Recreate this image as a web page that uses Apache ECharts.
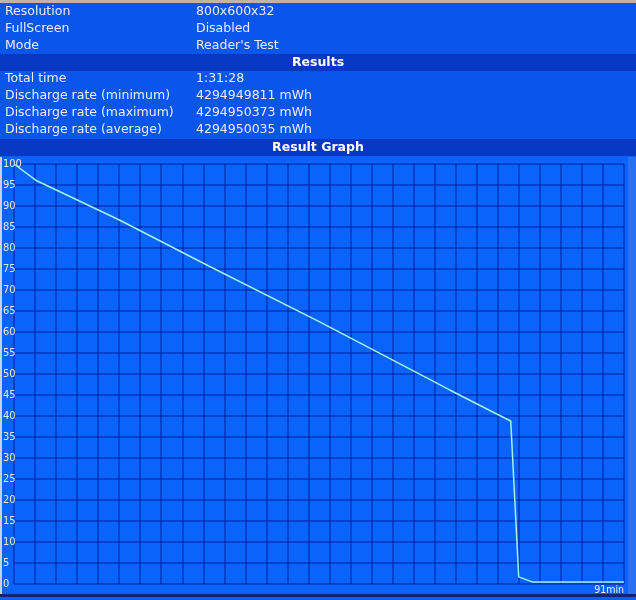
<!DOCTYPE html>
<html>
<head>
<meta charset="utf-8">
<script src="https://cdn.jsdelivr.net/npm/echarts@6/dist/echarts.min.js"></script>
<style>
html,body{margin:0;padding:0;background:#0a55ea;}
#c{width:636px;height:600px;}
</style>
</head>
<body>
<div id="c"></div>
<script>
// ---- data ----
const infoLabels = ['Resolution', 'FullScreen', 'Mode'];
const infoValues = ['800x600x32', 'Disabled', "Reader's Test"];
const resultLabels = ['Total time', 'Discharge rate (minimum)', 'Discharge rate (maximum)', 'Discharge rate (average)'];
const resultValues = ['1:31:28', '4294949811 mWh', '4294950373 mWh', '4294950035 mWh'];
const sectionTitles = ['Results', 'Result Graph'];
const timeMin   = [0,   3.4,  15.8, 29.2, 45.6, 65.0, 71.5, 74.1, 75.3, 77.3, 91];
const chargePct = [100, 96.0, 86.6, 75.6, 62.4, 46.2, 40.9, 38.8, 1.7,  0.5,  0.5];
const xMax = 91;
const xUnitLabel = '91min';
const xColumns = 29;
const yMin = 0, yMax = 100, yStep = 5;

// ---- layout ----
const FONT = '"DejaVu Sans", sans-serif';
const FONT_C = '"DejaVu Sans Condensed", "DejaVu Sans", sans-serif';
const TXT = '#e8eeff';
const chart = echarts.init(document.getElementById('c'), null, {renderer: 'canvas'});

const g = [];
g.push({type:'rect', z:-100, shape:{x:0,y:0,width:636,height:600}, style:{fill:'#0a55ea'}});
g.push({type:'rect', z:-99, shape:{x:0,y:0,width:636,height:3}, style:{fill:'#bdb6a6'}});
const rowY0 = 12, rowH = 16.8;
infoLabels.forEach((t, i) => {
  g.push({type:'text', z:5, style:{text:t, x:5, y:rowY0 + i*rowH, fill:TXT, font:'12.5px ' + FONT, verticalAlign:'middle'}});
  g.push({type:'text', z:5, style:{text:infoValues[i], x:196, y:rowY0 + i*rowH, fill:TXT, font:'12.5px ' + FONT, verticalAlign:'middle'}});
});
// section bars
const barYs = [54, 139];
sectionTitles.forEach((t, i) => {
  g.push({type:'rect', z:-98, shape:{x:0,y:barYs[i],width:636,height:17}, style:{fill:'#0638c4'}});
  g.push({type:'text', z:5, style:{text:t, x:318, y:barYs[i] + 8.5, fill:'#ffffff', font:'bold 12.5px ' + FONT, align:'center', verticalAlign:'middle'}});
});
const resY0 = 79;
resultLabels.forEach((t, i) => {
  g.push({type:'text', z:5, style:{text:t, x:5, y:resY0 + i*rowH, fill:TXT, font:'12.5px ' + FONT, verticalAlign:'middle'}});
  g.push({type:'text', z:5, style:{text:resultValues[i], x:196, y:resY0 + i*rowH, fill:TXT, font:'12.5px ' + FONT, verticalAlign:'middle'}});
});
// graph panel
g.push({type:'rect', z:-98, shape:{x:0,y:156,width:636,height:444}, style:{fill:'#0c5ff2'}});
g.push({type:'rect', z:-97, shape:{x:3,y:157,width:625,height:436}, style:{fill:'#0a63fb'}});
g.push({type:'rect', z:-97, shape:{x:0,y:157,width:2,height:438}, style:{fill:'#c9cfe0'}});
g.push({type:'rect', z:-97, shape:{x:0,y:594,width:636,height:3}, style:{fill:'#06267a'}});
g.push({type:'rect', z:-97, shape:{x:628,y:157,width:8,height:437}, style:{fill:'#2a70f0'}});

chart.setOption({
  animation: false,
  backgroundColor: 'transparent',
  graphic: {elements: g},
  grid: {left: 14, right: 12, top: 164, bottom: 16, containLabel: false},
  xAxis: {
    type: 'value', min: 0, max: xMax, interval: xMax / xColumns,
    name: xUnitLabel, nameLocation: 'end', nameGap: 0,
    nameTextStyle: {color: TXT, fontSize: 10.5, fontFamily: FONT_C, align: 'right', verticalAlign: 'top', padding: [1, 0, 0, 0]},
    axisLine: {show: false}, axisTick: {show: false}, axisLabel: {show: false},
    splitLine: {show: true, lineStyle: {color: 'rgba(0,35,160,0.7)', width: 1.5}}
  },
  yAxis: {
    type: 'value', min: yMin, max: yMax, interval: yStep,
    axisLine: {show: false}, axisTick: {show: false},
    axisLabel: {show: true, color: '#e6ecd8', fontSize: 11, fontFamily: FONT_C, align: 'left', margin: 11},
    splitLine: {show: true, lineStyle: {color: 'rgba(0,35,160,0.7)', width: 1.5}}
  },
  series: [{
    type: 'line',
    data: timeMin.map((t, i) => [t, chargePct[i]]),
    showSymbol: false, symbol: 'none',
    lineStyle: {color: '#a6f2e6', width: 1.5},
    z: 10
  }]
});
</script>
</body>
</html>
